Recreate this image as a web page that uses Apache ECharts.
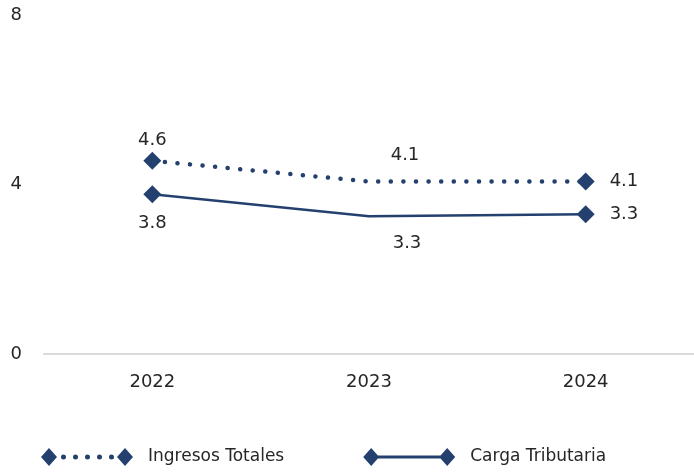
<!DOCTYPE html>
<html>
<head>
<meta charset="utf-8">
<script src="https://cdn.jsdelivr.net/npm/echarts@6/dist/echarts.min.js"></script>
<style>
  html, body { margin: 0; padding: 0; background: #fff; }
  #chart { width: 694px; height: 472px; }
</style>
</head>
<body>
<div id="chart"></div>
<script>
var years = ['2022', '2023', '2024'];
var ingresosTotales = [4.56, 4.07, 4.07];
var cargaTributaria = [3.77, 3.25, 3.3];
var yTicks = [0, 4, 8];

var navy = '#24406f';
var font = 'DejaVu Sans';

// label placement per point (index 1 = no marker, label shifted like the source)
function buildData(values, labelCfg) {
  return values.map(function (v, i) {
    return {
      value: v,
      symbolSize: i === 1 ? 0 : 18,
      label: labelCfg[i]
    };
  });
}

var ingresosLabels = [
  { position: 'top', distance: 2 },
  { position: 'top', distance: 17, offset: [36, 0] },
  { position: 'right', distance: 15 }
];
var cargaLabels = [
  { position: 'bottom', distance: 11 },
  { position: 'bottom', distance: 18, offset: [38, 0] },
  { position: 'right', distance: 15 }
];

var iconIngresos = 'path://M0 9 L8 0 L16 9 L8 18 Z ' +
  'M20 9 A2.5 2.5 0 1 0 25 9 A2.5 2.5 0 1 0 20 9 Z ' +
  'M32 9 A2.5 2.5 0 1 0 37 9 A2.5 2.5 0 1 0 32 9 Z ' +
  'M44 9 A2.5 2.5 0 1 0 49 9 A2.5 2.5 0 1 0 44 9 Z ' +
  'M56 9 A2.5 2.5 0 1 0 61 9 A2.5 2.5 0 1 0 56 9 Z ' +
  'M68 9 A2.5 2.5 0 1 0 73 9 A2.5 2.5 0 1 0 68 9 Z ' +
  'M76 9 L84 0 L92 9 L84 18 Z';
var iconCarga = 'path://M0 9 L8 0 L16 9 L8 18 Z M14 7.6 L78 7.6 L78 10.4 L14 10.4 Z M76 9 L84 0 L92 9 L84 18 Z';

var myChart = echarts.init(document.getElementById('chart'));
var option = {
  animation: false,
  textStyle: { fontFamily: font },
  grid: { left: 44, right: 0, top: 15, bottom: 118 },
  legend: {
    left: 36,
    bottom: 1,
    itemWidth: 92,
    itemHeight: 18,
    itemGap: 79,
    textStyle: { fontSize: 17, color: '#262626', fontFamily: font, padding: [0, 0, 0, 10] },
    data: [
      { name: 'Ingresos Totales', icon: iconIngresos, itemStyle: { color: navy, borderWidth: 0 } },
      { name: 'Carga Tributaria', icon: iconCarga, itemStyle: { color: navy, borderWidth: 0 } }
    ]
  },
  xAxis: {
    type: 'category',
    data: years,
    axisLine: { lineStyle: { color: '#d9d9d9', width: 2 } },
    axisTick: { show: false },
    axisLabel: { color: '#262626', fontSize: 18, margin: 19 }
  },
  yAxis: {
    type: 'value',
    min: yTicks[0],
    max: yTicks[yTicks.length - 1],
    interval: 4,
    splitLine: { show: false },
    axisLine: { show: false },
    axisTick: { show: false },
    axisLabel: { color: '#262626', fontSize: 18, margin: 22 }
  },
  series: [
    {
      name: 'Ingresos Totales',
      type: 'line',
      symbol: 'diamond',
      color: navy,
      lineStyle: { color: navy, width: 4.5, type: [0.1, 12.5], cap: 'round' },
      itemStyle: { color: navy },
      label: {
        show: true, color: '#262626', fontSize: 18,
        formatter: function (p) { return p.value.toFixed(1); }
      },
      data: buildData(ingresosTotales, ingresosLabels)
    },
    {
      name: 'Carga Tributaria',
      type: 'line',
      symbol: 'diamond',
      color: navy,
      lineStyle: { color: navy, width: 2.5 },
      itemStyle: { color: navy },
      label: {
        show: true, color: '#262626', fontSize: 18,
        formatter: function (p) { return p.value.toFixed(1); }
      },
      data: buildData(cargaTributaria, cargaLabels)
    }
  ]
};
myChart.setOption(option);
</script>
</body>
</html>
